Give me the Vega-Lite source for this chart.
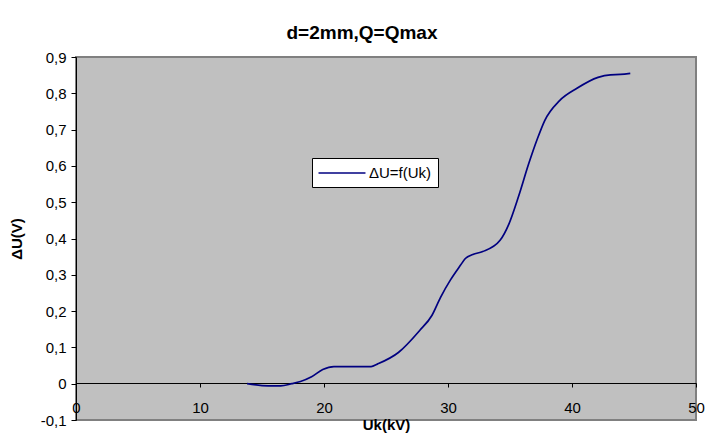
{
  "$schema": "https://vega.github.io/schema/vega-lite/v6.json",
  "width": 620,
  "height": 363,
  "autosize": {"type": "none"},
  "padding": {"left": 76, "top": 57, "right": 10, "bottom": 15},
  "background": "white",
  "title": {
    "text": "d=2mm,Q=Qmax",
    "font": "Liberation Sans",
    "fontSize": 19,
    "fontWeight": "bold",
    "color": "#000000",
    "anchor": "middle",
    "dx": -24,
    "offset": 7
  },
  "config": {
    "view": {"fill": "#C0C0C0", "stroke": "#808080", "strokeWidth": 2},
    "font": "Liberation Sans"
  },
  "data": {
    "values": [
      {"Uk": 13.8, "dU": 0.0, "series": "ΔU=f(Uk)"},
      {"Uk": 15.5, "dU": -0.006, "series": "ΔU=f(Uk)"},
      {"Uk": 16.5, "dU": -0.006, "series": "ΔU=f(Uk)"},
      {"Uk": 17.4, "dU": 0.0, "series": "ΔU=f(Uk)"},
      {"Uk": 18.1, "dU": 0.006, "series": "ΔU=f(Uk)"},
      {"Uk": 19.0, "dU": 0.019, "series": "ΔU=f(Uk)"},
      {"Uk": 19.9, "dU": 0.039, "series": "ΔU=f(Uk)"},
      {"Uk": 20.8, "dU": 0.047, "series": "ΔU=f(Uk)"},
      {"Uk": 23.8, "dU": 0.047, "series": "ΔU=f(Uk)"},
      {"Uk": 24.3, "dU": 0.054, "series": "ΔU=f(Uk)"},
      {"Uk": 26.0, "dU": 0.086, "series": "ΔU=f(Uk)"},
      {"Uk": 27.7, "dU": 0.146, "series": "ΔU=f(Uk)"},
      {"Uk": 28.7, "dU": 0.188, "series": "ΔU=f(Uk)"},
      {"Uk": 29.4, "dU": 0.238, "series": "ΔU=f(Uk)"},
      {"Uk": 30.2, "dU": 0.286, "series": "ΔU=f(Uk)"},
      {"Uk": 31.0, "dU": 0.326, "series": "ΔU=f(Uk)"},
      {"Uk": 31.4, "dU": 0.345, "series": "ΔU=f(Uk)"},
      {"Uk": 32.0, "dU": 0.356, "series": "ΔU=f(Uk)"},
      {"Uk": 32.8, "dU": 0.364, "series": "ΔU=f(Uk)"},
      {"Uk": 34.2, "dU": 0.395, "series": "ΔU=f(Uk)"},
      {"Uk": 34.9, "dU": 0.439, "series": "ΔU=f(Uk)"},
      {"Uk": 35.7, "dU": 0.517, "series": "ΔU=f(Uk)"},
      {"Uk": 36.5, "dU": 0.605, "series": "ΔU=f(Uk)"},
      {"Uk": 37.2, "dU": 0.674, "series": "ΔU=f(Uk)"},
      {"Uk": 37.8, "dU": 0.725, "series": "ΔU=f(Uk)"},
      {"Uk": 39.0, "dU": 0.780, "series": "ΔU=f(Uk)"},
      {"Uk": 40.4, "dU": 0.814, "series": "ΔU=f(Uk)"},
      {"Uk": 42.1, "dU": 0.844, "series": "ΔU=f(Uk)"},
      {"Uk": 43.1, "dU": 0.851, "series": "ΔU=f(Uk)"},
      {"Uk": 43.9, "dU": 0.852, "series": "ΔU=f(Uk)"},
      {"Uk": 44.7, "dU": 0.855, "series": "ΔU=f(Uk)"}
    ]
  },
  "mark": {"type": "line", "strokeWidth": 1.7, "interpolate": "monotone"},
  "encoding": {
    "x": {
      "field": "Uk",
      "type": "quantitative",
      "scale": {"domain": [0, 50], "nice": false, "zero": false},
      "axis": {
        "title": "Uk(kV)",
        "titleFontSize": 15,
        "titleFontWeight": "bold",
        "titleColor": "#000000",
        "titlePadding": 2,
        "values": [0, 10, 20, 30, 40, 50],
        "offset": -37,
        "grid": false,
        "domainColor": "#000000",
        "domainWidth": 1,
        "tickColor": "#000000",
        "tickSize": 4,
        "labelFontSize": 15,
        "labelColor": "#000000",
        "labelPadding": 13,
        "labelFlush": false,
        "labelOverlap": false
      }
    },
    "y": {
      "field": "dU",
      "type": "quantitative",
      "scale": {"domain": [-0.1, 0.9], "nice": false, "zero": false},
      "axis": {
        "title": "ΔU(V)",
        "titleFontSize": 15,
        "titleFontWeight": "bold",
        "titleColor": "#000000",
        "titlePadding": 16,
        "values": [-0.1, 0, 0.1, 0.2, 0.3, 0.4, 0.5, 0.6, 0.7, 0.8, 0.9],
        "labelExpr": "datum.value == 0 ? '0' : replace(replace(format(datum.value, '.1f'), '.', ','), '−', '-')",
        "grid": false,
        "domainColor": "#000000",
        "domainWidth": 1,
        "tickColor": "#000000",
        "tickSize": 5,
        "labelFontSize": 15,
        "labelColor": "#000000",
        "labelPadding": 5,
        "labelFlush": false,
        "labelOverlap": false
      }
    },
    "color": {
      "field": "series",
      "type": "nominal",
      "scale": {"range": ["#000080"]},
      "legend": {
        "title": null,
        "orient": "none",
        "legendX": 236,
        "legendY": 101,
        "symbolType": "M-3,0H3",
        "symbolSize": 245,
        "symbolStrokeWidth": 1.7,
        "symbolFillColor": "transparent",
        "symbolOffset": 15,
        "labelFontSize": 15,
        "labelColor": "#000000",
        "fillColor": "white",
        "strokeColor": "#000000",
        "padding": 6,
        "labelOffset": 18
      }
    }
  }
}
